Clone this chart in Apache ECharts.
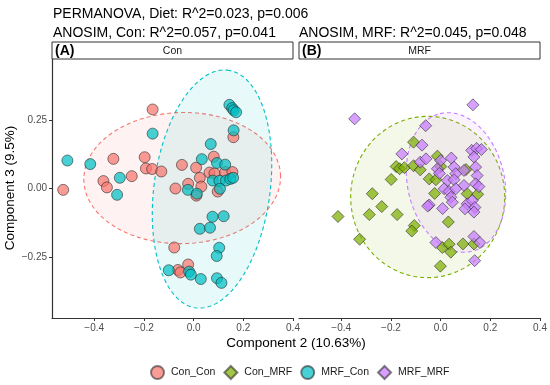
<!DOCTYPE html>
<html><head><meta charset="utf-8">
<script src="https://cdn.jsdelivr.net/npm/echarts@6/dist/echarts.min.js"></script>
<style>html,body{margin:0;padding:0;background:#fff}#c{width:550px;height:385px}</style>
</head><body><div id="c"></div>
<script>
// ---- data (Component 2, Component 3) ----
const conCon = [
  [-0.165,0.288],[0.160,0.187],[-0.323,0.108],[-0.197,0.114],[-0.192,0.073],[-0.167,0.071],
  [-0.130,0.062],[-0.047,0.086],[-0.249,0.045],[-0.363,0.027],[-0.349,0.004],[-0.525,-0.005],
  [0.010,0.076],[0.081,0.116],[0.025,0.039],[0.064,0.058],[0.084,0.055],[0.127,0.060],
  [0.156,0.060],[-0.073,0.000],[-0.022,0.017],[0.031,0.007],[0.011,-0.026],[0.097,-0.011],
  [-0.078,-0.215],[-0.022,-0.277],[-0.063,-0.297],[-0.053,-0.306]
];
const mrfCon = [
  [-0.508,0.102],[-0.416,0.089],[-0.297,0.039],[-0.308,-0.023],[-0.165,0.200],[0.144,0.305],
  [0.155,0.293],[0.161,0.285],[0.171,0.278],[0.161,0.212],[0.069,0.162],[0.033,0.107],
  [0.094,0.093],[0.127,0.087],[0.077,0.029],[0.104,0.028],[0.130,0.029],[0.148,0.035],
  [0.159,0.039],[0.106,-0.001],[-0.023,-0.005],[0.013,-0.019],[0.076,-0.103],[0.121,-0.101],
  [0.025,-0.147],[0.066,-0.143],[0.103,-0.216],[0.093,-0.246],[-0.100,-0.298],[-0.018,-0.303],
  [-0.011,-0.314],[0.029,-0.330],[0.094,-0.327],[0.112,-0.344]
];
const conMrf = [
  [-0.109,0.169],[-0.179,0.080],[-0.165,0.072],[-0.146,0.076],[-0.109,0.083],[-0.082,0.068],
  [-0.013,0.118],[0.001,0.080],[-0.199,0.033],[-0.046,0.035],[-0.019,0.032],[-0.275,-0.019],
  [-0.237,-0.066],[-0.287,-0.095],[-0.175,-0.095],[-0.413,-0.102],[-0.024,-0.018],[0.107,-0.019],
  [0.149,-0.021],[-0.326,-0.185],[-0.106,-0.135],[-0.116,-0.155],[0.031,-0.122],[0.007,-0.215],
  [0.034,-0.203],[0.041,-0.232],[0.090,-0.202],[0.134,-0.202],[-0.001,-0.283],[0.102,0.069]
];
const mrfMrf = [
  [-0.346,0.254],[0.130,0.305],[-0.060,0.229],[-0.075,0.158],[-0.156,0.126],[0.125,0.139],
  [0.145,0.146],[0.164,0.142],[0.134,0.115],[-0.082,0.096],[-0.059,0.108],[0.043,0.111],
  [0.000,0.102],[-0.013,0.072],[-0.005,0.055],[0.054,0.078],[0.094,0.066],[0.061,0.054],
  [0.141,0.078],[0.147,0.047],[0.027,0.029],[0.054,0.032],[0.094,0.011],[0.141,0.017],
  [0.154,0.007],[0.014,-0.001],[0.034,-0.011],[0.061,-0.001],[0.041,-0.032],[0.047,-0.050],
  [0.107,-0.056],[0.127,-0.044],[0.138,-0.069],[0.008,-0.073],[-0.046,-0.060],[0.098,-0.074],
  [0.134,-0.086],[-0.019,-0.197],[0.134,-0.175],[0.158,-0.197],[0.137,-0.263],[-0.052,-0.064]
];
// ellipses: [centre x, centre y, semi-axis a, semi-axis b, angle deg]
const ellipseConCon = [-0.046, 0.038, 0.396, 0.239, 1];
const ellipseMrfCon = [0.074, -0.002, 0.438, 0.233, 80.8];
const ellipseConMrf = [-0.052, -0.031, 0.310, 0.294, 0];
const ellipseMrfMrf = [0.062, 0.022, 0.259, 0.194, 106.6];

const xTicks = [-0.4, -0.2, 0.0, 0.2, 0.4];
const yTicks = [-0.25, 0.0, 0.25];
const groupNames = ['Con_Con', 'Con_MRF', 'MRF_Con', 'MRF_MRF'];
const titleMain = 'PERMANOVA, Diet: R^2=0.023, p=0.006';
const titleA = 'ANOSIM, Con: R^2=0.057, p=0.041';
const titleB = 'ANOSIM, MRF: R^2=0.045, p=0.048';
const xTitle = 'Component 2 (10.63%)';
const yTitle = 'Component 3 (9.5%)';

// ---- chart ----
const FONT = "'Liberation Sans', Arial, sans-serif";
const col = {
  Con_Con: [248,118,109], Con_MRF: [124,174,0], MRF_Con: [0,191,196], MRF_MRF: [199,124,255]
};
const rgba = (c, a) => `rgba(${c[0]},${c[1]},${c[2]},${a})`;
const minus = v => String(v).replace('-', '\u2212');

function ellipseSeries(params, grid, c) {
  return {
    type: 'custom', xAxisIndex: grid, yAxisIndex: grid, silent: true, z: 1,
    data: [params],
    renderItem: function (p, api) {
      const cx = api.value(0), cy = api.value(1), a = api.value(2), b = api.value(3);
      const ang = api.value(4) * Math.PI / 180;
      const pts = [];
      for (let i = 0; i <= 160; i++) {
        const t = i / 160 * Math.PI * 2;
        const dx = a * Math.cos(t), dy = b * Math.sin(t);
        pts.push(api.coord([cx + dx * Math.cos(ang) - dy * Math.sin(ang),
                            cy + dx * Math.sin(ang) + dy * Math.cos(ang)]));
      }
      return { type: 'polygon', shape: { points: pts },
        style: { fill: rgba(c, 0.09), stroke: rgba(c, 1), lineWidth: 1.1, lineDash: [4, 3] } };
    }
  };
}
function pointSeries(name, data, grid, symbol, size) {
  return {
    name, type: 'scatter', xAxisIndex: grid, yAxisIndex: grid, data, symbol, symbolSize: size, z: 3,
    itemStyle: { color: rgba(col[name], 0.72), borderColor: 'rgba(30,30,30,0.55)', borderWidth: 1, opacity: 1 }
  };
}
function xAxis(grid) {
  return {
    type: 'value', gridIndex: grid, min: -0.57, max: 0.4,
    axisLine: { show: true, onZero: false, lineStyle: { color: '#333', width: 1.2 } },
    axisTick: { show: true, length: 3, customValues: xTicks, lineStyle: { color: '#333' } },
    axisLabel: { customValues: xTicks, margin: 5, color: '#4d4d4d', fontSize: 10, fontFamily: FONT,
      formatter: v => minus(v.toFixed(1)) },
    splitLine: { show: false }
  };
}
function yAxis(grid, show) {
  return {
    type: 'value', gridIndex: grid, min: -0.472, max: 0.472,
    axisLine: { show: show, onZero: false, lineStyle: { color: '#333', width: 1.2 } },
    axisTick: { show: show, length: 3, customValues: yTicks, lineStyle: { color: '#333' } },
    axisLabel: { show: show, customValues: yTicks, margin: 5, color: '#4d4d4d', fontSize: 10, fontFamily: FONT,
      formatter: v => minus(v.toFixed(2)) },
    splitLine: { show: false }
  };
}
function strip(x, label, panel) {
  return [
    { type: 'rect', shape: { x: x, y: 42, width: 241, height: 17 },
      style: { fill: '#fff', stroke: '#333', lineWidth: 1 } },
    { type: 'text', x: x + 3, y: 51, style: { text: label, font: `bold 14px ${FONT}`, fill: '#000', verticalAlign: 'middle' } },
    { type: 'text', x: x + 120.5, y: 51, style: { text: panel, font: `10.5px ${FONT}`, fill: '#1a1a1a', align: 'center', verticalAlign: 'middle' } }
  ];
}

const chart = echarts.init(document.getElementById('c'), null, { renderer: 'canvas' });
chart.setOption({
  animation: false,
  backgroundColor: '#fff',
  grid: [
    { left: 52, top: 59, width: 241, height: 259 },
    { left: 299, top: 59, width: 241, height: 259 }
  ],
  xAxis: [xAxis(0), xAxis(1)],
  yAxis: [yAxis(0, true), yAxis(1, false)],
  legend: {
    data: groupNames, left: 145, top: 360, itemWidth: 13, itemHeight: 13, itemGap: 8,
    textStyle: { fontSize: 10.5, fontFamily: FONT, color: '#1a1a1a', padding: [0, 0, 0, 2] }
  },
  series: [
    ellipseSeries(ellipseConCon, 0, col.Con_Con),
    ellipseSeries(ellipseMrfCon, 0, col.MRF_Con),
    ellipseSeries(ellipseConMrf, 1, col.Con_MRF),
    ellipseSeries(ellipseMrfMrf, 1, col.MRF_MRF),
    pointSeries('Con_Con', conCon, 0, 'circle', 11),
    pointSeries('MRF_Con', mrfCon, 0, 'circle', 11),
    pointSeries('Con_MRF', conMrf, 1, 'diamond', 12),
    pointSeries('MRF_MRF', mrfMrf, 1, 'diamond', 12)
  ],
  graphic: [
    { type: 'text', x: 53, y: 14, style: { text: titleMain, font: `14px ${FONT}`, fill: '#000', verticalAlign: 'middle' } },
    { type: 'text', x: 53, y: 33, style: { text: titleA, font: `14px ${FONT}`, fill: '#000', verticalAlign: 'middle' } },
    { type: 'text', x: 299, y: 33, style: { text: titleB, font: `14px ${FONT}`, fill: '#000', verticalAlign: 'middle' } },
    ...strip(52, '(A)', 'Con'),
    ...strip(299, '(B)', 'MRF'),
    { type: 'text', x: 296, y: 343, style: { text: xTitle, font: `13.5px ${FONT}`, fill: '#000', align: 'center', verticalAlign: 'middle' } },
    { type: 'text', x: 10, y: 188, rotation: Math.PI / 2, style: { text: yTitle, font: `13.5px ${FONT}`, fill: '#000', align: 'center', verticalAlign: 'middle' } }
  ]
});
</script></body></html>
